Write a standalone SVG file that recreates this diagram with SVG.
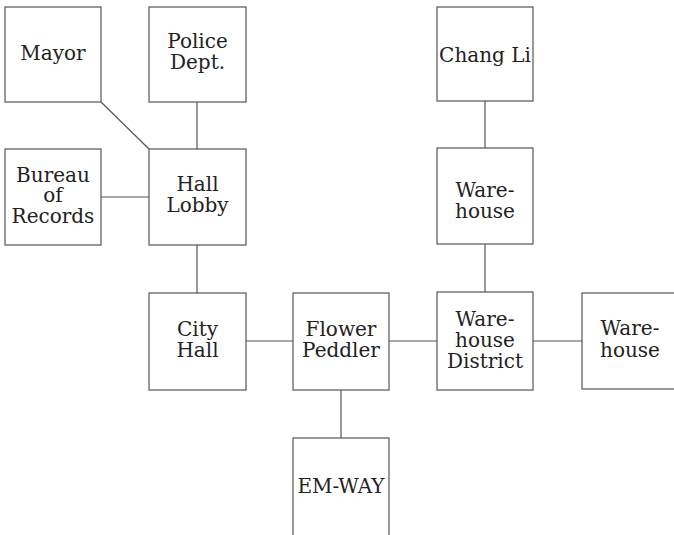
<svg xmlns="http://www.w3.org/2000/svg" width="674" height="535" viewBox="0 0 674 535">
<style>
.box{fill:#fff;stroke:#555;stroke-width:1.2}
.ln{stroke:#555;stroke-width:1.2;fill:none}
text{font-family:"DejaVu Serif","Liberation Serif",serif;font-size:20px;fill:#222;text-anchor:middle}
</style>
<rect width="674" height="535" fill="#fff"/>
<g id="connectors">
<line class="ln" x1="101" y1="102" x2="149" y2="149"/>
<line class="ln" x1="197" y1="102" x2="197" y2="149"/>
<line class="ln" x1="101" y1="197" x2="149" y2="197"/>
<line class="ln" x1="197" y1="245" x2="197" y2="293"/>
<line class="ln" x1="246" y1="341" x2="293" y2="341"/>
<line class="ln" x1="389" y1="341" x2="437" y2="341"/>
<line class="ln" x1="533" y1="341" x2="582" y2="341"/>
<line class="ln" x1="341" y1="390" x2="341" y2="438"/>
<line class="ln" x1="485" y1="101" x2="485" y2="148"/>
<line class="ln" x1="485" y1="244" x2="485" y2="292"/>
</g>
<g id="mayor"><rect class="box" x="5" y="7" width="96" height="95"/><text x="53" y="60">Mayor</text></g>
<g id="police"><rect class="box" x="149" y="7" width="97" height="95"/><text x="197.5" y="48">Police</text><text x="197.5" y="69">Dept.</text></g>
<g id="bureau"><rect class="box" x="5" y="149" width="96" height="96"/><text x="53" y="182">Bureau</text><text x="53" y="202">of</text><text x="53" y="223">Records</text></g>
<g id="hall-lobby"><rect class="box" x="149" y="149" width="97" height="96"/><text x="197.5" y="191">Hall</text><text x="197.5" y="212">Lobby</text></g>
<g id="city-hall"><rect class="box" x="149" y="293" width="97" height="97"/><text x="197.5" y="336">City</text><text x="197.5" y="357">Hall</text></g>
<g id="flower-peddler"><rect class="box" x="293" y="293" width="96" height="97"/><text x="341" y="336">Flower</text><text x="341" y="357">Peddler</text></g>
<g id="em-way"><rect class="box" x="293" y="438" width="96" height="110"/><text x="341" y="493">EM-WAY</text></g>
<g id="chang-li"><rect class="box" x="437" y="7" width="96" height="94"/><text x="485" y="62">Chang Li</text></g>
<g id="warehouse-upper"><rect class="box" x="437" y="148" width="96" height="96"/><text x="485" y="197">Ware-</text><text x="485" y="218">house</text></g>
<g id="warehouse-district"><rect class="box" x="437" y="292" width="96" height="98"/><text x="485" y="326">Ware-</text><text x="485" y="347">house</text><text x="485" y="368">District</text></g>
<g id="warehouse-right"><rect class="box" x="582" y="293" width="100" height="96"/><text x="630" y="335">Ware-</text><text x="630" y="357">house</text></g>
</svg>
